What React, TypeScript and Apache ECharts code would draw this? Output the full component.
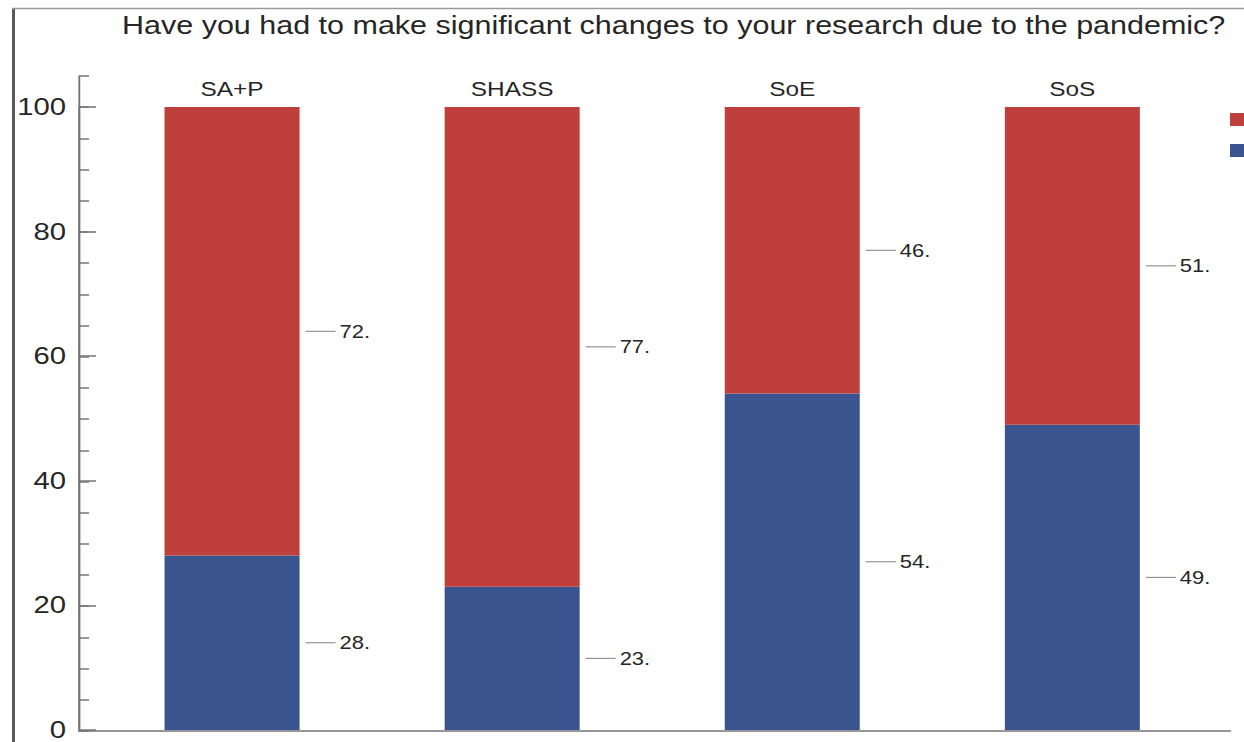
import React, { useEffect, useRef } from "react";
import * as echarts from "echarts";

// Survey results by school (percent of respondents)
const categories = ["SA+P", "SHASS", "SoE", "SoS"];
const yesValues = [72, 77, 46, 51];
const noValues = [28, 23, 54, 49];
const seriesNames = ["Yes", "No"];
const titleText =
  "Have you had to make significant changes to your research due to the pandemic?";

// The chart is drawn slightly narrow and stretched horizontally to its full width.
const S = 1.22;
const W = 1244;
const H = 742;
const sx = (v: number) => v / S;

const RED = "#bf3f3d";
const BLUE = "#3a5490";
const AXIS = "#747474";
const TEXT = "#262626";
const FONT = "'Liberation Sans', Arial, Helvetica, sans-serif";

export default function App() {
  const ref = useRef<HTMLDivElement>(null);

  useEffect(() => {
    if (!ref.current) return;
    const chart = echarts.init(ref.current, undefined, { renderer: "svg" });

    const valueLabel = {
      show: true,
      position: "right" as const,
      distance: sx(6),
      formatter: (p: any) => `{ln|}{v|${p.value}.}`,
      rich: {
        ln: { width: sx(30), height: 1, backgroundColor: "#7e7e7e" },
        v: { fontSize: 18, color: TEXT, padding: [0, 0, 0, sx(4)] },
      },
    };

    chart.setOption({
      animation: false,
      textStyle: { fontFamily: FONT },
      title: {
        text: titleText,
        left: sx(122),
        top: 13,
        padding: 0,
        textStyle: { fontSize: 25, fontWeight: "normal", color: TEXT, fontFamily: FONT },
      },
      legend: {
        data: seriesNames,
        orient: "vertical",
        left: sx(1230),
        top: 113,
        padding: 0,
        itemWidth: sx(14),
        itemHeight: 13,
        itemGap: 18,
        icon: "rect",
        selectedMode: false,
        formatter: () => "",
      },
      graphic: [
        {
          type: "rect",
          shape: { x: sx(12), y: 8, width: sx(3), height: H - 8 },
          style: { fill: "#5a5a5a" },
        },
        {
          type: "line",
          shape: { x1: sx(12), y1: 8.5, x2: W / S, y2: 8.5 },
          style: { stroke: "#9a9a9a", lineWidth: 1.5 },
        },
      ],
      grid: [
        { left: sx(79), right: sx(14), top: 76, bottom: 11 },
        { left: sx(92), right: sx(32), top: 107, bottom: 11 },
      ],
      xAxis: [
        {
          gridIndex: 0,
          type: "category",
          data: [""],
          axisLine: { show: true, lineStyle: { color: AXIS, width: 1.5 } },
          axisTick: { show: false },
          axisLabel: { show: false },
        },
        {
          gridIndex: 1,
          type: "category",
          data: categories,
          position: "bottom",
          show: false,
        },
        {
          gridIndex: 1,
          type: "category",
          data: categories,
          position: "top",
          axisLine: { show: false },
          axisTick: { show: false },
          axisLabel: { fontSize: 20, color: TEXT, margin: 8 },
        },
      ],
      yAxis: [
        {
          gridIndex: 0,
          type: "value",
          min: 0,
          max: 105,
          interval: 5,
          axisLine: { show: true, lineStyle: { color: AXIS, width: 1.5 } },
          axisTick: { show: true, inside: true, length: sx(10), lineStyle: { color: AXIS, width: 1.5 } },
          axisLabel: { show: false },
          splitLine: { show: false },
        },
        {
          gridIndex: 1,
          type: "value",
          min: 0,
          max: 100,
          interval: 20,
          offset: sx(13),
          axisLine: { show: true, lineStyle: { color: AXIS, width: 1.5 } },
          axisTick: { show: true, inside: true, length: sx(17), lineStyle: { color: AXIS, width: 1.5 } },
          axisLabel: { fontSize: 24, color: TEXT, margin: sx(13) },
          splitLine: { show: false },
        },
      ],
      series: [
        {
          name: seriesNames[1],
          type: "bar",
          stack: "total",
          xAxisIndex: 1,
          yAxisIndex: 1,
          barWidth: sx(135),
          data: noValues,
          itemStyle: { color: BLUE },
          label: valueLabel,
        },
        {
          name: seriesNames[0],
          type: "bar",
          stack: "total",
          xAxisIndex: 1,
          yAxisIndex: 1,
          barWidth: sx(135),
          data: yesValues,
          itemStyle: { color: RED },
          label: valueLabel,
        },
      ],
    });

    return () => chart.dispose();
  }, []);

  return (
    <div
      style={{
        position: "fixed",
        left: 0,
        top: 0,
        width: W,
        height: H,
        overflow: "hidden",
        background: "#fff",
      }}
    >
      <div
        ref={ref}
        style={{
          width: W / S,
          height: H,
          transform: `scaleX(${S})`,
          transformOrigin: "0 0",
        }}
      />
    </div>
  );
}
